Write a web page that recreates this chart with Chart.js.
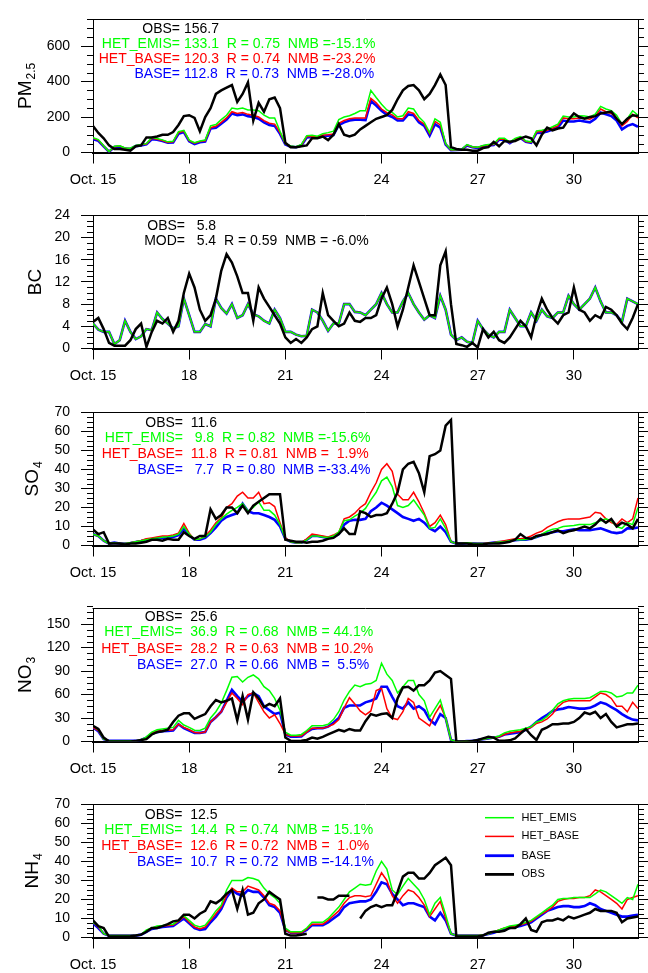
<!DOCTYPE html>
<html><head><meta charset="utf-8">
<script src="https://cdn.jsdelivr.net/npm/chart.js@4.4.1/dist/chart.umd.min.js"></script>
<style>
html,body{margin:0;padding:0;background:#fff;width:648px;height:973px;overflow:hidden;position:relative;}
canvas{position:absolute;left:0;}
</style></head><body>
<script>
// time axis: hours since Oct. 15 00:00, one value every 4 hours
const HOURS = Array.from({length:103}, (_, i) => i * 4);
const xTickHours = [0, 72, 144, 216, 288, 360];
const xTickLabels = ['Oct. 15', '18', '21', '24', '27', '30'];

const PM25_OBS = [
150,110,80,40,20,20, 15,10,35,40,85,85, 90,100,100,115,155,205, 210,195,120,200,250,330,
350,365,380,285,330,395, 180,280,230,300,310,250, 55,30,30,35,40,80, 80,90,70,100,160,100,
90,100,130,150,170,190, 200,210,240,300,350,375, 380,350,300,330,380,440, 380,30,20,15,15,10,
10,25,30,60,35,65, 60,65,80,90,80,40, 100,140,125,135,140,185, 220,200,190,200,205,220,
225,230,190,160,190,210, 205];
const PM25_HET_EMIS = [
84,73,38,5,35,38, 26,24,40,45,50,85, 79,71,60,63,118,125, 70,55,65,70,150,158,
185,210,250,245,250,240, 240,235,210,195,195,120, 50,37,33,45,95,97, 92,106,112,120,185,200,
207,220,235,235,350,310, 272,240,226,200,207,250, 245,200,170,112,190,170, 50,15,16,18,45,33,
30,40,45,48,80,80, 58,80,90,65,60,122, 125,132,145,160,205,200, 200,207,205,200,216,260,
245,236,210,160,190,235, 210];
const PM25_HET_BASE = [
80,70,36,5,33,36, 24,22,38,43,48,80, 75,68,57,60,112,120, 67,52,62,66,140,148,
170,195,230,220,225,215, 210,200,180,165,160,112, 48,35,31,42,90,92, 88,98,100,105,165,180,
190,195,195,195,305,280, 245,225,212,190,190,230, 220,180,160,105,175,155, 48,14,15,17,42,31,
28,37,42,45,75,75, 55,75,85,62,57,115, 118,125,138,150,195,190, 190,195,193,188,205,245,
230,220,195,150,175,215, 195];
const PM25_BASE = [
76,66,34,4,31,34, 22,20,36,40,46,75, 72,65,55,57,105,115, 63,48,58,62,135,140,
162,185,220,210,215,205, 200,190,170,155,150,105, 45,33,30,40,85,88, 84,92,95,98,155,170,
180,185,185,183,290,265, 235,212,200,180,180,215, 210,170,150,95,160,140, 45,13,14,15,40,30,
26,35,40,42,72,72, 52,72,82,60,55,110, 112,118,130,140,180,175, 175,180,175,170,190,225,
215,205,180,130,150,160, 145];

const BC_OBS = [
4.8,5.5,3.5,1,0.5,0.5, 0.5,1.5,3.5,4.5,0.3,3, 5,4.5,5.5,3,5,10, 13.5,11,7,5,6,9,
14,17,15.5,13,10,10, 5,11,9,7.5,6,4.5, 2,1,1.7,1,2,3.5, 4,10,6,5,4,4.5,
6.5,5,4.8,5.5,5.5,6, 9,11,8,4,7,11, 15,12,9,6,6,15, 17.5,8,0.8,0.6,0.3,1,
0.2,3.5,2,3,1.5,1, 2,3.5,5,4,2,6, 9,7,5.5,4.5,6,6.5, 11,7,6.5,5,6,5.5,
7.5,7,6,4.5,3.5,5.5, 8];
const BC_MOD = [
4.5,3.4,3,3,0.8,1.5, 5,3,1.7,2.2,3.5,3.3, 6.5,5.3,4.5,3.6,4,9, 6,3,3,4.4,4,9,
7.3,6.3,8,5.5,6,8, 6.2,5.8,5,4.5,7,5.5, 3,3,2.5,2.2,2.3,7, 6.5,5,3.2,4.5,4.5,8,
8,6.6,6.5,6,7,8, 10,8,6.5,6.5,8.5,10, 8,6.5,5.2,6,5.5,9.5, 7,2.5,1.5,2,1.2,1,
5,3.5,2.5,2,3,3, 7,5.5,4,4,6.5,5, 7,5.8,5.5,6.5,6.5,9.5, 8,7,8,9,11,8.5,
6.5,6.5,6,4.8,9,8.5, 8];

const SO4_OBS = [
8.5,6,7,1,1,1, 0.5,1,1,1.5,2,3, 3,2.5,3.5,3,3,7, 5,3.5,5,5,19,14,
16,20,20,17,21,17, 21,23,25,27,27,27, 3,2.5,2,2,1.5,2, 2,2.5,3.5,4,6,9,
6,6,18,17,15,16, 16,17,22,28,40,43, 44,38,28,47,48,50, 63,66,1,1,1,0.7,
0.5,0.7,1,1,1,1.5, 2,3,6,4,3.5,5, 5.5,6,7,8,6.5,7.5, 8,9,10,9,11,14,
12,14,10,12,11,9, 14];
const SO4_HET_EMIS = [
6,5,2.5,1,1.5,1, 1,1.5,2,2.5,3,3.5, 4,4.3,4.6,5,6,10, 6,3,3.5,4.5,7,11,
14,16.5,18.5,20,22,18, 20,23,18.5,18.5,16,11, 3.5,2,1.5,1.5,3,5, 5,4.5,4.2,5,7,13,
13.5,15.5,17,19.5,24,28, 34,36,31,21,20,21, 24,20,16,9,9.5,14, 9,2,1,1,1.5,1.2,
1,1,1.2,1.5,1.8,2, 2.5,3,3,3.2,3.5,4.5, 6,7.5,8.5,9,10,10.3, 10.5,11,11,11,12,13,
14,13,10,9,12,11, 20];
const SO4_HET_BASE = [
6,5,2.5,1,1.5,1, 1,1.5,2,2.7,3.5,4, 4.5,5,5,5.5,6.5,11.5, 6.5,3,3.5,5,8,12,
14.5,20,22,26,28,25, 25,28,22,22.5,20.5,12, 4,2,1.5,1.5,3.5,6, 5.5,5,4.5,5.5,7,14,
15,17,20,22,28,33, 40,43,39,27,24,24, 28,23,17,10,12,16, 11,2,1,1,1.5,1.2,
1,1,1.3,1.6,2,2.5, 3,3.5,3.5,4,5,6.5, 7.5,9.5,11,12.5,13.5,14, 14,14,14.5,15,17.5,17,
14,12,11,14,12,14, 25];
const SO4_BASE = [
6,5,2.5,1,1.5,1, 1,1.3,1.8,2.3,3,3.2, 3.8,4,4.3,4.5,5.5,9, 5.5,3,3,4,6.5,9.5,
13,15,16,17,22,18, 17,17,16,15,13.5,10, 3.5,2,1.5,1.5,3,5, 5,4.5,4,4.5,6,11,
13,13.5,13.5,14,18,20, 22.5,21,19,17,15,14, 13,14,12,9,7.5,10, 7,2,1,1,1.2,1.2,
1,1,1.2,1.5,1.8,2, 2.5,2.8,3,3,3.5,4.5, 5.5,6.5,7,7.5,7.5,8, 8.5,8,8,8,8.5,9,
8,7,6.5,7,9,9, 9.5];

const NO3_OBS = [
20,16,5,0,0,0, 0,0,0.5,2,3,9, 12,13,15,25,33,36, 36,29,32,35,45,53,
50,52,55,27,58,28, 63,55,44,48,45,55, 5,1,0.5,1,2,5, 3.5,6,9,12,15,13,
16,14,14,26,35,33, 35,36,30,55,69,70, 65,72,72,78,88,90, 85,80,0,0,0,0.5,
2,4,6,5,1,1, 1.5,4,10,16,8,2, 15,18,22,22,23,23, 25,30,37,35,38,30,
35,25,18,20,22,22, 23];
const NO3_HET_EMIS = [
20,15,3,1,1,1, 1,1,1,2,6,12, 15,16,17,18,27,21, 18,14.5,14,17,30,38,
49,65,82,83,76,82, 85,80,70,65,55,40, 12,8,8,9,14,20, 20,20,22,28,38,53,
64,72,70,73,74,78, 100,86,78,62,70,78, 78,60,52,31,42,53, 30,2,0,0,0.5,1,
2,3,4,5,7,11, 13,14,15,17,19,25, 27,32,40,48,52,54, 55,55,55,56,60,64,
64,62,57,58,62,62, 72];
const NO3_HET_BASE = [
18,14,3,1,1,1, 1,1,1,2,5,11, 13,14,14.5,15,22,18, 15,11.5,11,12,25,31,
38,50,62,55,47,60, 62,50,38,30,34,23, 9,7,7,7,12,17, 17,17,19,22,28,43,
56,48,39,34,39,65, 68,42,30,28,38,55, 50,30,25,20,35,46, 30,2,0,0,0.5,1,
2,3,4,5,6,9, 11,12,13,15,18,23, 25,29,35,44,50,52, 52,52,52,52,57,62,
60,55,45,45,38,50, 42];
const NO3_BASE = [
18,13,3,1,1,1, 1,1,1,2,5,10, 12,13,13.5,14,22,17, 14,11,11,12,25,31,
38,52,66,58,51,58, 62,58,45,40,35,37, 9,6,6,6.5,12,16, 17,17,19,24,30,43,
46,46,46,50,52,55, 70,70,57,45,42,50, 42,45,40,28,22,35, 30,2,0,0,0.5,1,
2,3,4,5,6,9, 10,11,12,15,19,25, 30,34,39,41,42,44, 43,42,42,43,46,50,
48,44,40,35,31,28, 27];

const NH4_OBS = [
9,6,5,0.5,0.5,0.5, 0.5,0.7,1,1.5,3,5, 5,6,7,8.5,9,12, 12,10,12.5,14,19,18,
20,23,25,15,25,12, 13,18,20,24,22,20, 2,1,1,1.5,2,null, 21,21,20,20,22,22,
22,null,10,14,16,17, 16,17,17,24,32,34, 34,31,31,34,38,40, 42,38,0.5,0.5,0.5,0.5,
0.5,1,2.5,3,3,3.5, 5,5,7,10,4,3, 8,9,9,10,9,11, 10,11,12,13,15,14,
14,14,13,8,10,10.5, 11];
const NH4_HET_EMIS = [
8,6,2,1,1,1, 1,1,1,1.5,4,5, 6,6.3,6.8,7,9,11.5, 9,6.5,5.5,6.5,10,14,
17,25,30,30,30,31.5, 31,30,26,23,21,18, 5,3,3,3,5,8, 8,8,10,13,16,20,
24,26,28,27.5,28,35, 40,36,25,22.5,27,31, 28,25,20,12,18,21, 12,2,1,1,1,1,
1,1.3,2,3,4,5, 6,6.5,7,8,9,11, 13,15,17,20,20.5,20.5, 21,21,21,21,23,25,
24,22,20,18,21,20, 28];
const NH4_HET_BASE = [
8,5.5,2,1,1,1, 1,1,1,1.5,3.5,5, 5.5,6,6.3,6.5,8.5,11, 8,5.5,4.5,5.5,9,12.5,
16,22,26,24,24,27, 26,25,22,18,17,14, 4,2.5,2.5,2.5,4.5,7, 7,7,9,11.5,14,18,
21,22,22,21.5,22,28, 34,30,22,18,22,25, 24,21,17,11,15,19, 10,2,1,1,1,1,
1,1.3,2,3,4,5, 5.5,6,6.5,7.5,8.5,10.5, 12.5,14,16,19,20,20.5, 20.5,21,21,22,25,24,
22,20,18,15,20,21, 22];
const NH4_BASE = [
7.5,5,2,1,1,1, 1,1,1,1.5,3,4.5, 5,5.5,5.8,6,8,10, 7.5,5,4,4.5,8,11,
15,21,25,23,22,25, 24,24,21,17,16,13, 4,2.5,2.5,2.5,4,6.5, 6.5,6.5,8,10,12,16,
18,18.5,19,19,20,24, 29,28,23,20,17,18, 18,17,16,11,9,13, 9,2,1,1,1,1,
1,1.2,1.8,2.5,3.5,4.5, 5,5.5,6,7,8,10, 12,14,15,16,16.5,16.5, 16,16,16.5,18,17,15,
14,13,12,11,11,11.5, 12];

// y axis ranges and tick values
const PM25_YTICKS = [0, 200, 400, 600];
const BC_YTICKS = [0, 4, 8, 12, 16, 20, 24];
const SO4_YTICKS = [0, 10, 20, 30, 40, 50, 60, 70];
const NO3_YTICKS = [0, 30, 60, 90, 120, 150];
const NH4_YTICKS = [0, 10, 20, 30, 40, 50, 60, 70];

// statistics annotations [label, rest]
const PM25_STATS = [['OBS=', ' 156.7'], ['HET_EMIS=', ' 133.1  R = 0.75  NMB =-15.1%'], ['HET_BASE=', ' 120.3  R = 0.74  NMB =-23.2%'], ['BASE=', ' 112.8  R = 0.73  NMB =-28.0%']];
const BC_STATS = [['OBS=', '   5.8'], ['MOD=', '   5.4  R = 0.59  NMB = -6.0%']];
const SO4_STATS = [['OBS=', '  11.6'], ['HET_EMIS=', '   9.8  R = 0.82  NMB =-15.6%'], ['HET_BASE=', '  11.8  R = 0.81  NMB =  1.9%'], ['BASE=', '   7.7  R = 0.80  NMB =-33.4%']];
const NO3_STATS = [['OBS=', '  25.6'], ['HET_EMIS=', '  36.9  R = 0.68  NMB = 44.1%'], ['HET_BASE=', '  28.2  R = 0.63  NMB = 10.2%'], ['BASE=', '  27.0  R = 0.66  NMB =  5.5%']];
const NH4_STATS = [['OBS=', '  12.5'], ['HET_EMIS=', '  14.4  R = 0.74  NMB = 15.1%'], ['HET_BASE=', '  12.6  R = 0.72  NMB =  1.0%'], ['BASE=', '  10.7  R = 0.72  NMB =-14.1%']];

const LEGEND_NAMES = ['HET_EMIS', 'HET_BASE', 'BASE', 'OBS'];

const C_OBS = '#000000', C_EMIS = '#00ff00', C_HB = '#ff0000', C_BASE = '#0000ff';
const FONT = '"Liberation Sans", Arial, Helvetica, sans-serif';

const panels = [
  {title: 'PM', sub: '2.5', titleX: 23.5, yMax: 750, ticks: PM25_YTICKS, minor: 50,
   series: [PM25_OBS, PM25_HET_EMIS, PM25_HET_BASE, PM25_BASE], stats: PM25_STATS,
   statColors: [C_OBS, C_EMIS, C_HB, C_BASE], eqX: 180, statY: [10, 25, 40, 55]},
  {title: 'BC', sub: '', titleX: 33.5, yMax: 24, ticks: BC_YTICKS, minor: 1,
   series: [BC_OBS, BC_MOD, BC_MOD, BC_MOD], stats: BC_STATS,
   statColors: [C_OBS, C_OBS], eqX: 185, statY: [11, 26]},
  {title: 'SO', sub: '4', titleX: 30.5, yMax: 70, ticks: SO4_YTICKS, minor: 2.5,
   series: [SO4_OBS, SO4_HET_EMIS, SO4_HET_BASE, SO4_BASE], stats: SO4_STATS,
   statColors: [C_OBS, C_EMIS, C_HB, C_BASE], eqX: 183, statY: [10.5, 26, 41.5, 57.5]},
  {title: 'NO', sub: '3', titleX: 23.5, yMax: 170, ticks: NO3_YTICKS, minor: 7.5,
   series: [NO3_OBS, NO3_HET_EMIS, NO3_HET_BASE, NO3_BASE], stats: NO3_STATS,
   statColors: [C_OBS, C_EMIS, C_HB, C_BASE], eqX: 182.5, statY: [9, 24, 40.5, 57]},
  {title: 'NH', sub: '4', titleX: 30.5, yMax: 70, ticks: NH4_YTICKS, minor: 2.5,
   series: [NH4_OBS, NH4_HET_EMIS, NH4_HET_BASE, NH4_BASE], stats: NH4_STATS,
   statColors: [C_OBS, C_EMIS, C_HB, C_BASE], eqX: 182.5, statY: [11, 26, 41.5, 58], legend: true}
];

const CANVAS_H = 196, PLOT_TOP = 16, PLOT_H = 136.5, LEFT_W = 93, RIGHT_W = 10;

function mkData(arr) { return arr.map((v, i) => ({x: HOURS[i], y: v})); }

function decorPlugin(p) {
  return {
    id: 'decor',
    afterDraw(chart) {
      const ctx = chart.ctx, a = chart.chartArea, y = chart.scales.y;
      ctx.save();
      ctx.strokeStyle = '#000'; ctx.lineWidth = 1;
      // top frame
      ctx.beginPath(); ctx.moveTo(a.left - 0.5, Math.round(a.top) + 0.5); ctx.lineTo(a.right + 0.5, Math.round(a.top) + 0.5); ctx.stroke();
      // minor ticks
      const n = Math.round(p.yMax / p.minor);
      ctx.beginPath();
      for (let k = 0; k <= n; k++) {
        const v = k * p.minor;
        if (p.ticks.some(t => Math.abs(t - v) < 1e-9)) continue;
        const py = Math.round(y.getPixelForValue(v)) + 0.5;
        ctx.moveTo(a.left - 6, py); ctx.lineTo(a.left, py);
        ctx.moveTo(a.right, py); ctx.lineTo(a.right + 6, py);
      }
      ctx.stroke();
      // y title
      const cy = (a.top + a.bottom) / 2;
      ctx.translate(p.titleX, cy); ctx.rotate(-Math.PI / 2);
      ctx.fillStyle = '#000';
      ctx.font = '19px ' + FONT;
      const w1 = ctx.measureText(p.title).width;
      ctx.font = '12px ' + FONT;
      const w2 = p.sub ? ctx.measureText(p.sub).width + 1 : 0;
      const x0 = -(w1 + w2) / 2;
      ctx.textAlign = 'left'; ctx.textBaseline = 'alphabetic';
      ctx.font = '19px ' + FONT;
      ctx.fillText(p.title, x0, 7);
      if (p.sub) { ctx.font = '12px ' + FONT; ctx.fillText(p.sub, x0 + w1 + 1, 11); }
      ctx.setTransform(1, 0, 0, 1, 0, 0);
      // statistics
      ctx.font = '14px ' + FONT; ctx.textBaseline = 'middle';
      p.stats.forEach((s, i) => {
        ctx.fillStyle = p.statColors[i];
        const ty = a.top + p.statY[i];
        ctx.textAlign = 'right'; ctx.fillText(s[0], p.eqX, ty);
        ctx.textAlign = 'left'; ctx.fillText(s[1], p.eqX, ty);
      });
      // legend
      if (p.legend) {
        const cols = [C_EMIS, C_HB, C_BASE, C_OBS], lw = [1.5, 1.5, 2.8, 2.8];
        const rows = [13.3, 32, 51.3, 70];
        ctx.font = '11px ' + FONT; ctx.textAlign = 'left'; ctx.textBaseline = 'middle';
        LEGEND_NAMES.forEach((nm, i) => {
          const ly = a.top + rows[i];
          ctx.strokeStyle = cols[i]; ctx.lineWidth = lw[i];
          ctx.beginPath(); ctx.moveTo(485, ly); ctx.lineTo(514, ly); ctx.stroke();
          ctx.fillStyle = '#000'; ctx.fillText(nm, 521.5, ly);
        });
      }
      ctx.restore();
    }
  };
}

panels.forEach((p, idx) => {
  const c = document.createElement('canvas');
  c.width = 648; c.height = CANVAS_H;
  c.style.width = '648px'; c.style.height = CANVAS_H + 'px';
  c.style.top = Math.round(idx * 196.3) + 'px';
  document.body.appendChild(c);
  const [obs, emis, hb, base] = p.series;
  const line = (arr, col, w) => ({data: mkData(arr), borderColor: col, borderWidth: w, pointRadius: 0, tension: 0, fill: false, spanGaps: false, yAxisID: 'y'});
  const yTicks = (s) => { s.ticks = p.ticks.map(v => ({value: v})); };
  new Chart(c, {
    type: 'line',
    data: {datasets: [line(obs, C_OBS, 2.5), line(emis, C_EMIS, 1.5), line(hb, C_HB, 1.5), line(base, C_BASE, 2.6)]},
    options: {
      responsive: false, animation: false, devicePixelRatio: 1, events: [],
      layout: {padding: {top: PLOT_TOP, left: 0, right: 0, bottom: 0}, autoPadding: false},
      plugins: {legend: {display: false}, tooltip: {enabled: false}},
      scales: {
        x: {type: 'linear', position: 'bottom', min: 0, max: 408,
          afterBuildTicks: (s) => { s.ticks = xTickHours.map(v => ({value: v})); },
          afterFit: (s) => { s.height = CANVAS_H - PLOT_TOP - PLOT_H; },
          ticks: {callback: (v) => xTickLabels[xTickHours.indexOf(v)], font: {family: FONT, size: 14.5}, color: '#000', padding: 8, maxRotation: 0, minRotation: 0, autoSkip: false},
          grid: {display: true, drawOnChartArea: false, drawTicks: true, tickLength: 11, color: '#000', lineWidth: 1},
          border: {display: true, color: '#000', width: 2}},
        y: {type: 'linear', position: 'left', min: 0, max: p.yMax,
          afterBuildTicks: yTicks,
          afterFit: (s) => { s.width = LEFT_W; },
          ticks: {font: {family: FONT, size: 14}, color: '#000', padding: 11, autoSkip: false},
          grid: {display: true, drawOnChartArea: false, drawTicks: true, tickLength: 12, color: '#000', lineWidth: 1},
          border: {display: true, color: '#000', width: 1}},
        y2: {type: 'linear', position: 'right', min: 0, max: p.yMax,
          afterBuildTicks: yTicks,
          afterFit: (s) => { s.width = RIGHT_W; },
          ticks: {display: false},
          grid: {display: true, drawOnChartArea: false, drawTicks: true, tickLength: 12, color: '#000', lineWidth: 1},
          border: {display: true, color: '#000', width: 1}}
      }
    },
    plugins: [decorPlugin(p)]
  });
});
</script>
</body></html>
